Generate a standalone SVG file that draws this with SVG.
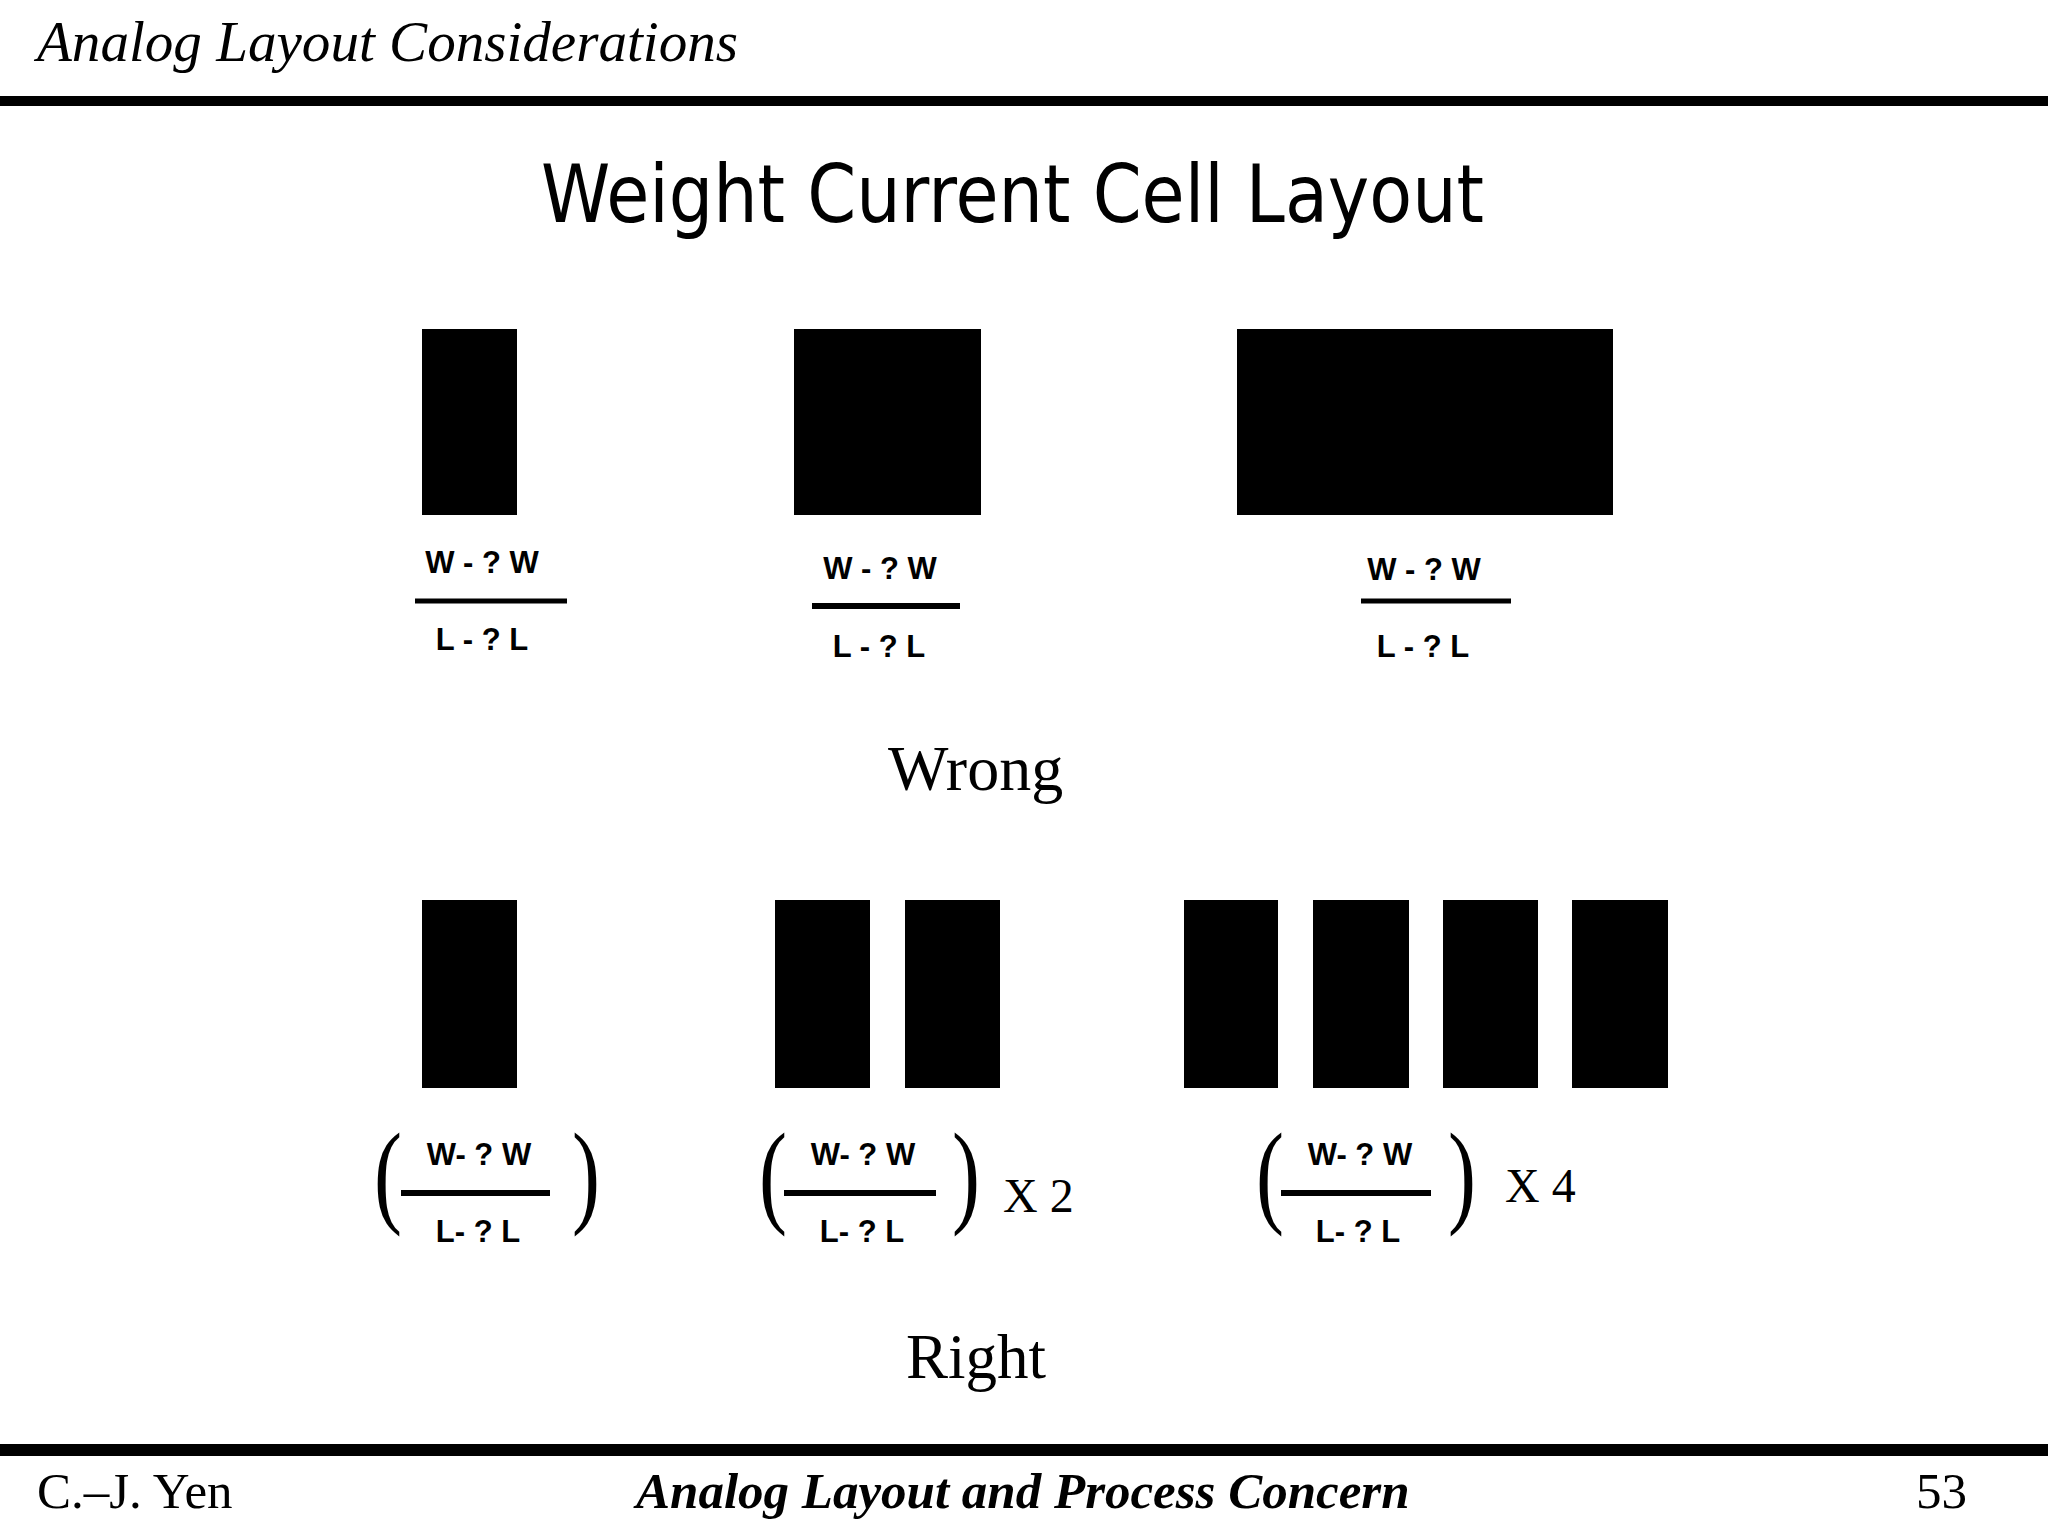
<svg xmlns="http://www.w3.org/2000/svg" width="2048" height="1536" viewBox="0 0 2048 1536">
<style>
.hdr{font-family:"Liberation Serif","Times New Roman",serif;font-style:italic;font-size:57px;fill:#000}
.ftr{font-family:"Liberation Serif","Times New Roman",serif;font-size:51px;fill:#000}
.ftrb{font-family:"Liberation Serif","Times New Roman",serif;font-style:italic;font-weight:bold;font-size:51px;fill:#000}
.title{font-family:"DejaVu Sans","Verdana",sans-serif;font-size:80px;fill:#000}
.cap{font-family:"Liberation Serif","Times New Roman",serif;font-size:64px;fill:#000}
.lbl{font-family:"Liberation Sans",Arial,sans-serif;font-weight:bold;font-size:31px;fill:#000;text-anchor:middle}
.par{font-family:"Liberation Serif","Times New Roman",serif;font-size:84px;fill:#000;text-anchor:middle}
.mul{font-family:"Liberation Serif","Times New Roman",serif;font-size:48px;fill:#000}
.blk{fill:#000}
.bar{stroke:#000;stroke-width:5}
.bar2{stroke:#000;stroke-width:6}
</style>
<rect width="2048" height="1536" fill="#fff"/>
<g id="header">
<text class="hdr" x="37" y="61" textLength="701" lengthAdjust="spacingAndGlyphs">Analog Layout Considerations</text>
<rect x="0" y="96" width="2048" height="10" fill="#000"/>
</g>
<g id="title">
<text class="title" x="541" y="222" textLength="943" lengthAdjust="spacingAndGlyphs">Weight Current Cell Layout</text>
</g>
<g id="wrong-a">
<rect class="blk" x="422" y="329" width="95" height="186"/>
<text class="lbl" x="482" y="573">W - ? W</text>
<line class="bar" x1="415" y1="601" x2="567" y2="601"/>
<text class="lbl" x="482" y="650">L - ? L</text>
</g>
<g id="wrong-b">
<rect class="blk" x="794" y="329" width="187" height="186"/>
<text class="lbl" x="880" y="579">W - ? W</text>
<line class="bar2" x1="812" y1="606" x2="960" y2="606"/>
<text class="lbl" x="879" y="657">L - ? L</text>
</g>
<g id="wrong-c">
<rect class="blk" x="1237" y="329" width="376" height="186"/>
<text class="lbl" x="1424" y="580">W - ? W</text>
<line class="bar" x1="1361" y1="601" x2="1511" y2="601"/>
<text class="lbl" x="1423" y="657">L - ? L</text>
</g>
<g id="wrong-label">
<text class="cap" x="888" y="790">Wrong</text>
</g>
<g id="right-1">
<rect class="blk" x="422" y="900" width="95" height="188"/>
<text class="par" transform="translate(388 1212) scale(1 1.37)">(</text>
<text class="lbl" x="479" y="1165">W- ? W</text>
<line class="bar2" x1="401" y1="1193" x2="550" y2="1193"/>
<text class="lbl" x="478" y="1242">L- ? L</text>
<text class="par" transform="translate(586 1212) scale(1 1.37)">)</text>
</g>
<g id="right-2">
<rect class="blk" x="775" y="900" width="95" height="188"/>
<rect class="blk" x="905" y="900" width="95" height="188"/>
<text class="par" transform="translate(773 1212) scale(1 1.37)">(</text>
<text class="lbl" x="863" y="1165">W- ? W</text>
<line class="bar2" x1="784" y1="1193" x2="936" y2="1193"/>
<text class="lbl" x="862" y="1242">L- ? L</text>
<text class="par" transform="translate(966 1212) scale(1 1.37)">)</text>
<text class="mul" x="1003" y="1212">X 2</text>
</g>
<g id="right-4">
<rect class="blk" x="1184" y="900" width="94" height="188"/>
<rect class="blk" x="1313" y="900" width="96" height="188"/>
<rect class="blk" x="1443" y="900" width="95" height="188"/>
<rect class="blk" x="1572" y="900" width="96" height="188"/>
<text class="par" transform="translate(1270 1212) scale(1 1.37)">(</text>
<text class="lbl" x="1360" y="1165">W- ? W</text>
<line class="bar2" x1="1281" y1="1193" x2="1431" y2="1193"/>
<text class="lbl" x="1358" y="1242">L- ? L</text>
<text class="par" transform="translate(1462 1212) scale(1 1.37)">)</text>
<text class="mul" x="1505" y="1202">X 4</text>
</g>
<g id="right-label">
<text class="cap" x="906" y="1378" style="font-size:63px">Right</text>
</g>
<g id="footer">
<rect x="0" y="1444" width="2048" height="12" fill="#000"/>
<text class="ftr" x="37" y="1508">C.–J. Yen</text>
<text class="ftrb" x="636" y="1508">Analog Layout and Process Concern</text>
<text class="ftr" x="1916" y="1508">53</text>
</g>
</svg>
